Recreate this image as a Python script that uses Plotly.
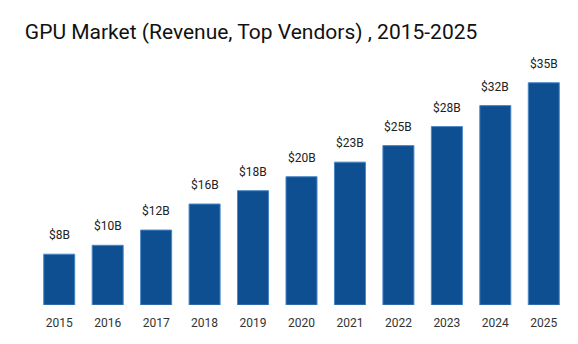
import plotly.graph_objects as go

years = ["2015", "2016", "2017", "2018", "2019", "2020", "2021", "2022", "2023", "2024", "2025"]
revenue = [8.0, 9.4, 11.8, 15.9, 18.0, 20.2, 22.5, 25.1, 28.1, 31.4, 35.0]
labels = ["$8B", "$10B", "$12B", "$16B", "$18B", "$20B", "$23B", "$25B", "$28B", "$32B", "$35B"]

fig = go.Figure()
fig.add_trace(go.Bar(
    x=years, y=revenue,
    marker=dict(color="#0E4F91", line=dict(color="#4A86C5", width=1)),
    width=0.64,
    hoverinfo="skip",
))
for i, (v, lab) in enumerate(zip(revenue, labels)):
    fig.add_annotation(x=i, y=v, text=lab, showarrow=False, yanchor="bottom",
                       yshift=10, font=dict(family="Roboto", size=12, color="#222222"))

fig.update_layout(
    width=578, height=344,
    margin=dict(l=35, r=10, t=50, b=39),
    paper_bgcolor="white", plot_bgcolor="white",
    title=dict(text="GPU Market (Revenue, Top Vendors) , 2015-2025", x=0.043, xanchor="left",
               y=0.888, yanchor="bottom",
               font=dict(family="Roboto", size=21, color="#111111")),
    xaxis=dict(type="category", categoryorder="array", categoryarray=years,
               range=[-0.5, len(years) - 0.5], showgrid=False, showline=False,
               ticks="outside", ticklen=7, tickcolor="rgba(0,0,0,0)",
               tickfont=dict(family="Roboto", size=12, color="#333333")),
    yaxis=dict(range=[0, 40.16], visible=False),
    showlegend=False,
    bargap=0.36,
)
fig.write_html("out.html")
